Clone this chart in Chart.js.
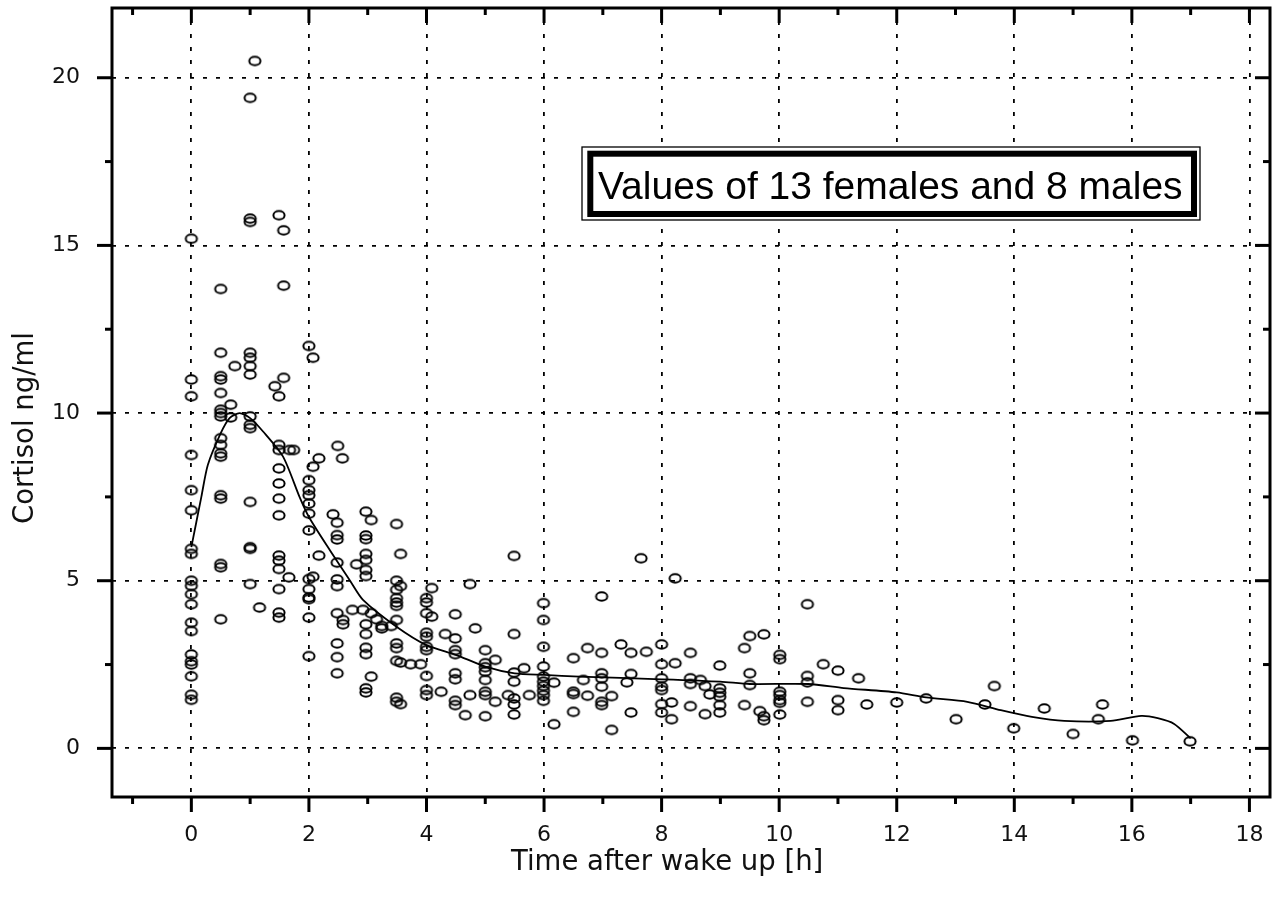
<!DOCTYPE html>
<html>
<head>
<meta charset="utf-8">
<script src="https://cdn.jsdelivr.net/npm/chart.js@4.4.1/dist/chart.umd.min.js"></script>
<style>
  html, body { margin: 0; padding: 0; background: #fff; }
  #wrap { width: 1279px; height: 906px; }
</style>
</head>
<body>
<div id="wrap"><canvas id="cortisol-chart" width="1279" height="906"></canvas></div>
<script>
// Cortisol samples: [hours after wake up, ng/ml]

const samplesWake = [
    [0, 15.2], [0, 11.0], [0, 10.5], [0, 8.75], [0, 7.7], [0, 7.1], [0, 5.95], [0, 5.8], [0, 5.0], [0, 4.85],
    [0, 4.6], [0, 4.3], [0, 3.75], [0, 3.5], [0, 2.8], [0, 2.6], [0, 2.5], [0, 2.15], [0, 1.6], [0, 1.45],
    [0.5, 13.7], [0.5, 11.8], [0.5, 11.1], [0.5, 11.0], [0.5, 10.6], [0.5, 10.1], [0.5, 10.0], [0.5, 9.9],
    [0.5, 9.25], [0.5, 9.05], [0.5, 8.8], [0.5, 8.7], [0.5, 7.55], [0.5, 7.45], [0.5, 5.5], [0.5, 5.4], [0.5, 3.85],
    [0.67, 10.25], [0.74, 11.4], [0.67, 9.87],
    [1.08, 20.5], [1.0, 19.4], [1.0, 15.8], [1.0, 15.7], [1.0, 11.8], [1.0, 11.65], [1.0, 11.4], [1.0, 11.15],
    [1.0, 9.9], [1.0, 9.65], [1.0, 9.55], [1.0, 7.35], [1.0, 6.0], [1.0, 5.95], [1.0, 4.9], [1.16, 4.2]
];

const samplesMorning = [
    [1.49, 15.9], [1.57, 15.45], [1.57, 13.8], [1.57, 11.05], [1.42, 10.8], [1.49, 10.5], [1.49, 9.05], [1.49, 8.9],
    [1.49, 8.35], [1.49, 7.9], [1.49, 7.45], [1.49, 6.95], [1.49, 5.75], [1.49, 5.6], [1.49, 5.35], [1.49, 4.75],
    [1.49, 4.05], [1.49, 3.9], [1.67, 8.9], [1.74, 8.9], [1.66, 5.1],
    [2.0, 12.0], [2.07, 11.65], [2.17, 8.65], [2.07, 8.4], [2.0, 8.0], [2.0, 7.7], [2.0, 7.55], [2.0, 7.3],
    [2.0, 7.0], [2.0, 6.5], [2.0, 5.05], [2.0, 4.75], [2.0, 4.5], [2.0, 4.45], [2.0, 3.9], [2.0, 2.75],
    [2.07, 5.12], [2.17, 5.75],
    [2.49, 9.02], [2.57, 8.65], [2.41, 6.98], [2.48, 6.73], [2.48, 6.36], [2.48, 6.23], [2.48, 5.54], [2.48, 5.04],
    [2.48, 4.84], [2.48, 4.03], [2.58, 3.83], [2.58, 3.70], [2.48, 3.13], [2.48, 2.72], [2.48, 2.24],
    [2.81, 5.49], [2.74, 4.13], [2.92, 4.13], [2.97, 7.06], [3.06, 6.81], [2.97, 6.35], [2.97, 6.24], [2.97, 5.80],
    [2.97, 5.62], [2.97, 5.32], [2.97, 5.14], [3.06, 4.03], [2.97, 3.70], [2.97, 3.41], [2.97, 3.0], [2.97, 2.81],
    [3.15, 3.85], [3.24, 3.65], [3.24, 3.58], [3.06, 2.14], [2.97, 1.79], [2.97, 1.67]
];

const samplesMidday = [
    [3.49, 6.69], [3.56, 5.80], [3.49, 5.0], [3.56, 4.84], [3.49, 4.73], [3.49, 4.48], [3.49, 4.35], [3.49, 4.25],
    [3.49, 3.83], [3.40, 3.65], [3.49, 3.13], [3.49, 2.99], [3.49, 2.61], [3.56, 2.56], [3.73, 2.51], [3.90, 2.51],
    [3.49, 1.51], [3.49, 1.39], [3.56, 1.32],
    [4.09, 4.78], [4.0, 4.48], [4.0, 4.35], [4.0, 4.03], [4.09, 3.93], [4.0, 3.45], [4.0, 3.33], [4.0, 3.03],
    [4.0, 2.93], [4.0, 2.16], [4.0, 1.74], [4.0, 1.59], [4.25, 1.69], [4.32, 3.41],
    [4.49, 4.0], [4.49, 3.28], [4.49, 2.93], [4.49, 2.81], [4.49, 2.24], [4.49, 2.06], [4.49, 1.42], [4.49, 1.29],
    [4.66, 0.99], [4.74, 4.90], [4.74, 1.59], [4.83, 3.58],
    [5.0, 2.93], [5.0, 2.54], [5.0, 2.42], [5.0, 2.29], [5.0, 2.04], [5.0, 1.69], [5.0, 1.59], [5.0, 0.96],
    [5.17, 2.64], [5.17, 1.39], [5.39, 1.59],
    [5.49, 5.74], [5.49, 3.41], [5.49, 2.26], [5.49, 1.99], [5.49, 1.49], [5.49, 1.31], [5.49, 1.01],
    [5.66, 2.39], [5.75, 1.59],
    [5.99, 4.33], [5.99, 3.83], [5.99, 3.03], [5.99, 2.44], [5.99, 2.14], [5.99, 1.99], [5.99, 1.86], [5.99, 1.72],
    [5.99, 1.59], [5.99, 1.42], [6.17, 1.96], [6.17, 0.72]
];

const samplesAfternoon = [
    [6.5, 2.69], [6.5, 1.69], [6.5, 1.62], [6.5, 1.09], [6.67, 2.04], [6.74, 2.99], [6.74, 1.57], [6.98, 4.53],
    [6.98, 2.85], [6.98, 2.24], [6.98, 2.09], [6.98, 1.84], [6.98, 1.39], [6.98, 1.29], [7.15, 1.56], [7.15, 0.55],
    [7.31, 3.10], [7.41, 1.97], [7.48, 2.85], [7.48, 2.22], [7.48, 1.07], [7.65, 5.67], [7.74, 2.88],
    [8.0, 3.10], [8.0, 2.51], [8.0, 2.09], [8.0, 1.84], [8.0, 1.74], [8.0, 1.32], [8.0, 1.07], [8.17, 1.37],
    [8.17, 0.87], [8.23, 5.07], [8.23, 2.54],
    [8.49, 2.85], [8.49, 2.09], [8.49, 1.92], [8.49, 1.26], [8.66, 2.04], [8.74, 1.86], [8.74, 1.02], [8.82, 1.61],
    [8.99, 2.47], [8.99, 1.79], [8.99, 1.66], [8.99, 1.54], [8.99, 1.29], [8.99, 1.07],
    [9.41, 2.99], [9.41, 1.29], [9.5, 3.35], [9.5, 2.24], [9.5, 1.89], [9.67, 1.11], [9.74, 3.40], [9.74, 0.96],
    [9.74, 0.84],
    [10.01, 2.79], [10.01, 2.66], [10.01, 1.69], [10.01, 1.59], [10.01, 1.44], [10.01, 1.36], [10.01, 1.01],
    [10.48, 4.30], [10.48, 2.16], [10.48, 1.97], [10.48, 1.39], [10.75, 2.51], [11.0, 2.32], [11.0, 1.44],
    [11.0, 1.14], [11.35, 2.09], [11.49, 1.31]
];

const samplesEvening = [
    [12.0, 1.37], [12.5, 1.49], [13.01, 0.87], [13.5, 1.31], [13.66, 1.86], [13.99, 0.60], [14.51, 1.19],
    [15.0, 0.43], [15.43, 0.87], [15.5, 1.31], [16.01, 0.24], [16.99, 0.21]
];

// smoothed mean curve
const fitHours = [0, 0.17, 0.28, 0.5, 0.65, 0.82, 1.0, 1.22, 1.56, 1.84, 2.0, 2.36, 2.7, 2.92, 3.49, 4.0, 4.5,
    5.0, 5.5, 6.0, 6.6, 8.0, 9.0, 9.5, 10.5, 11.1, 12.0, 12.5, 13.2, 13.77, 14.3, 14.85, 15.64, 16.16, 16.44,
    16.72, 17.0];
const fitLevels = [6.0, 7.5, 8.45, 9.4, 9.85, 10.0, 9.85, 9.45, 8.7, 7.5, 6.9, 5.9, 5.0, 4.43, 3.63, 3.08, 2.79,
    2.44, 2.24, 2.19, 2.14, 2.06, 1.99, 1.92, 1.92, 1.8, 1.67, 1.52, 1.39, 1.14, 0.94, 0.82, 0.82, 0.97, 0.9,
    0.73, 0.3];

const xMajorTicks = [0, 2, 4, 6, 8, 10, 12, 14, 16, 18];
const xMinorTicks = [-1, 1, 3, 5, 7, 9, 11, 13, 15, 17];
const yMajorTicks = [0, 5, 10, 15, 20];
const yMinorTicks = [2.5, 7.5, 12.5, 17.5];

const boxText = 'Values of 13 females and 8 males';

// little open ellipse used as marker
function makeRing() {
    const c = document.createElement('canvas');
    c.width = 16;
    c.height = 13;
    const g = c.getContext('2d');
    g.strokeStyle = '#000';
    g.lineWidth = 2;
    g.beginPath();
    g.ellipse(8, 6.5, 5.6, 4.2, 0, 0, Math.PI * 2);
    g.stroke();
    return c;
}

function toPoints(list) {
    return list.map(p => ({ x: p[0], y: p[1] }));
}

const framePlugin = {
    id: 'frameAndTicks',
    afterDatasetsDraw(chart) {
        const { ctx, chartArea: a, scales } = chart;
        const x = scales.x, y = scales.y;
        ctx.save();
        ctx.strokeStyle = '#000';
        ctx.lineWidth = 3;
        ctx.lineCap = 'butt';

        function seg(x0, y0, x1, y1) {
            ctx.beginPath();
            ctx.moveTo(x0, y0);
            ctx.lineTo(x1, y1);
            ctx.stroke();
        }

        xMajorTicks.forEach(v => {
            const px = x.getPixelForValue(v);
            seg(px, a.bottom, px, a.bottom + 15);
            seg(px, a.top, px, a.top + 15);
        });
        xMinorTicks.forEach(v => {
            const px = x.getPixelForValue(v);
            seg(px, a.bottom, px, a.bottom + 7);
            seg(px, a.top, px, a.top + 7);
        });
        yMajorTicks.forEach(v => {
            const py = y.getPixelForValue(v);
            seg(a.left - 15, py, a.left, py);
            seg(a.right - 15, py, a.right, py);
        });
        yMinorTicks.forEach(v => {
            const py = y.getPixelForValue(v);
            seg(a.left - 7, py, a.left, py);
            seg(a.right - 7, py, a.right, py);
        });

        ctx.strokeRect(a.left, a.top, a.right - a.left, a.bottom - a.top);

        // framed label
        ctx.fillStyle = '#fff';
        ctx.fillRect(582, 147, 618, 73);
        ctx.lineWidth = 1.3;
        ctx.strokeRect(582, 147, 618, 73);
        ctx.lineWidth = 6;
        ctx.strokeRect(590.3, 153.7, 603.7, 60.3);
        ctx.fillStyle = '#000';
        ctx.font = '39px "Liberation Sans", Arial, sans-serif';
        ctx.textAlign = 'left';
        ctx.textBaseline = 'alphabetic';
        ctx.fillText(boxText, 598, 199);

        // axis titles
        ctx.fillStyle = '#111';
        ctx.font = '27.5px "DejaVu Sans", sans-serif';
        ctx.fillText('Time after wake up [h]', 511, 870);
        ctx.translate(33, 524);
        ctx.rotate(-Math.PI / 2);
        ctx.fillText('Cortisol ng/ml', 0, 0);
        ctx.restore();
    }
};

const ring = makeRing();

new Chart(document.getElementById('cortisol-chart'), {
    type: 'scatter',
    data: {
        datasets: [
            {
                label: 'samples',
                data: toPoints([].concat(samplesWake, samplesMorning, samplesMidday, samplesAfternoon, samplesEvening)),
                pointStyle: ring,
                pointRadius: 5,
                borderColor: '#000',
                backgroundColor: 'rgba(0,0,0,0)'
            },
            {
                type: 'line',
                label: 'mean',
                data: fitHours.map((h, i) => ({ x: h, y: fitLevels[i] })),
                borderColor: '#000',
                borderWidth: 1.8,
                pointRadius: 0,
                tension: 0.25,
                fill: false
            }
        ]
    },
    options: {
        responsive: false,
        animation: false,
        layout: { padding: { left: 0, right: 9, top: 8, bottom: 0 } },
        plugins: {
            legend: { display: false },
            tooltip: { enabled: false }
        },
        scales: {
            x: {
                type: 'linear',
                min: -1.35,
                max: 18.35,
                afterFit: s => {
                    s.height = 109;
                    s.paddingLeft = 0;
                    s.paddingRight = 0;
                },
                afterBuildTicks: s => { s.ticks = xMajorTicks.map(v => ({ value: v })); },
                grid: { color: '#000', lineWidth: 1.8, drawTicks: false },
                border: { display: false, dash: [4, 9] },
                ticks: {
                    color: '#111',
                    padding: 25,
                    maxRotation: 0,
                    font: { family: '"DejaVu Sans", sans-serif', size: 22 }
                }
            },
            y: {
                type: 'linear',
                min: -1.45,
                max: 22.08,
                afterFit: s => {
                    s.width = 112;
                    s.paddingTop = 0;
                    s.paddingBottom = 0;
                },
                afterBuildTicks: s => { s.ticks = yMajorTicks.map(v => ({ value: v })); },
                grid: { color: '#000', lineWidth: 1.8, drawTicks: false },
                border: { display: false, dash: [4, 9] },
                ticks: {
                    color: '#111',
                    padding: 32,
                    font: { family: '"DejaVu Sans", sans-serif', size: 22 }
                }
            }
        }
    },
    plugins: [framePlugin]
});
</script>
</body>
</html>
